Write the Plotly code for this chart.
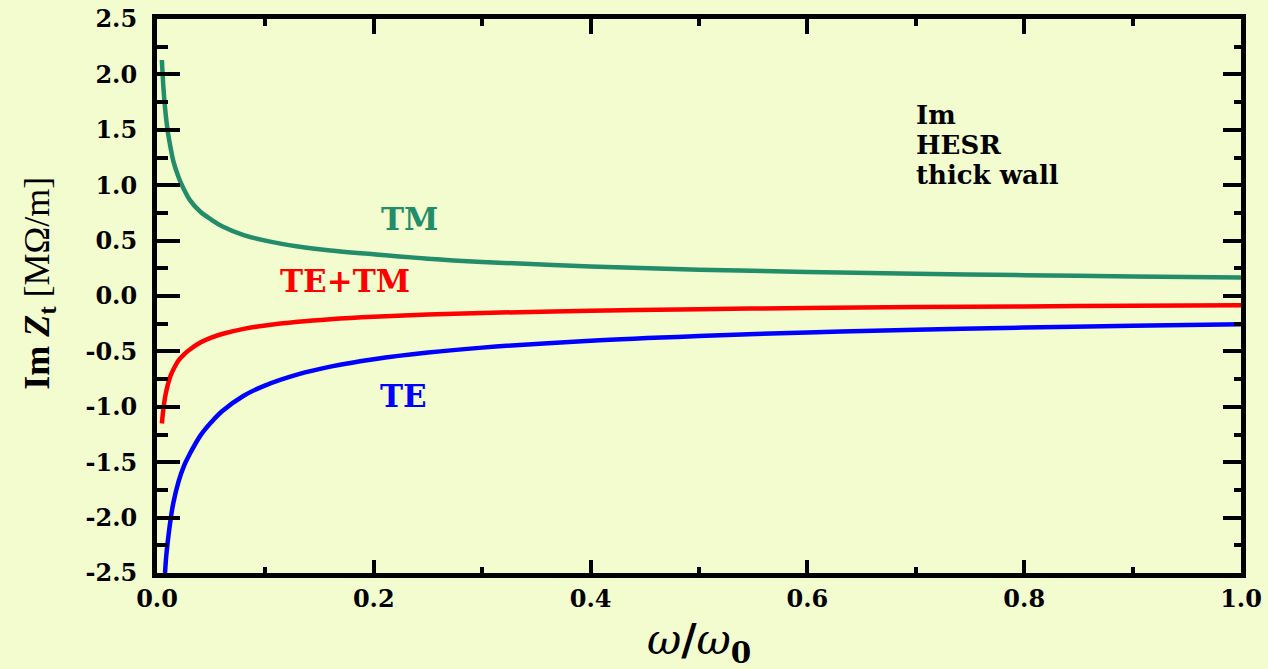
import plotly.graph_objects as go

# ---- data ----
tm_x = [0.0045, 0.006, 0.0075, 0.01, 0.0125, 0.015, 0.02, 0.025, 0.03, 0.04, 0.05, 0.06, 0.08,
        0.1, 0.13, 0.16, 0.2, 0.25, 0.3, 0.4, 0.5, 0.6, 0.7, 0.8, 0.9, 1.0]
tm_y = [2.13, 1.87, 1.69, 1.48, 1.34, 1.22, 1.07, 0.96, 0.87, 0.76, 0.69, 0.63, 0.55,
        0.50, 0.447, 0.41, 0.376, 0.336, 0.307, 0.266, 0.238, 0.217, 0.201, 0.188, 0.177, 0.168]

sum_x = [0.0045, 0.006, 0.0075, 0.01, 0.0125, 0.015, 0.02, 0.025, 0.03, 0.04, 0.05, 0.06, 0.08,
         0.1, 0.13, 0.16, 0.2, 0.25, 0.3, 0.4, 0.5, 0.6, 0.7, 0.8, 0.9, 1.0]
sum_y = [-1.15, -1.01, -0.91, -0.80, -0.72, -0.665, -0.58, -0.526, -0.485, -0.42, -0.376, -0.343, -0.297,
         -0.266, -0.233, -0.21, -0.188, -0.168, -0.153, -0.133, -0.119, -0.108, -0.100, -0.094, -0.0885, -0.084]

te_x = [0.0074, 0.0085, 0.01, 0.0125, 0.015, 0.02, 0.025, 0.03, 0.04, 0.05, 0.06, 0.08,
        0.1, 0.13, 0.16, 0.2, 0.25, 0.3, 0.4, 0.5, 0.6, 0.7, 0.8, 0.9, 1.0]
te_y = [-2.50, -2.35, -2.21, -2.02, -1.87, -1.67, -1.53, -1.43, -1.26, -1.14, -1.04, -0.90,
        -0.806, -0.707, -0.637, -0.570, -0.51, -0.466, -0.403, -0.361, -0.329, -0.305, -0.285, -0.269, -0.255]

x_tick_vals = [0.0, 0.2, 0.4, 0.6, 0.8, 1.0]
x_tick_text = ["0.0", "0.2", "0.4", "0.6", "0.8", "1.0"]
y_tick_vals = [-2.5, -2.0, -1.5, -1.0, -0.5, 0.0, 0.5, 1.0, 1.5, 2.0, 2.5]
y_tick_text = ["-2.5", "-2.0", "-1.5", "-1.0", "-0.5", "0.0", "0.5", "1.0", "1.5", "2.0", "2.5"]

info_lines = ["Im", "HESR", "thick wall"]
info_y = [1.634, 1.363, 1.092]

BG = "#f2fccf"
GREEN = "#238d69"
TICKFONT = dict(family="DejaVu Serif", size=24, color="black", weight="bold")
LINE = dict(width=4.5, shape="spline", smoothing=1.0)

fig = go.Figure()
fig.add_trace(go.Scatter(x=tm_x, y=tm_y, mode="lines", line=dict(LINE, color=GREEN), showlegend=False))
fig.add_trace(go.Scatter(x=sum_x, y=sum_y, mode="lines", line=dict(LINE, color="#ff0000"), showlegend=False))
fig.add_trace(go.Scatter(x=te_x, y=te_y, mode="lines", line=dict(LINE, color="#0000ff"), showlegend=False))
# invisible copy on the mirror axes so the top/right frame axes are drawn
fig.add_trace(go.Scatter(x=tm_x, y=tm_y, xaxis="x2", yaxis="y2", mode="lines", opacity=0,
                         line=dict(width=0), hoverinfo="skip", showlegend=False))

axis_common = dict(showgrid=False, zeroline=False, showline=True, linecolor="black", linewidth=5,
                   ticks="inside", tickcolor="black", tickwidth=4, automargin=False)

fig.update_layout(
    width=1268, height=669,
    margin=dict(l=157, r=27, t=19, b=96),
    paper_bgcolor=BG, plot_bgcolor=BG,
    xaxis=dict(range=[0, 1], tickmode="array", tickvals=x_tick_vals, ticktext=x_tick_text,
               ticklen=13, tickfont=TICKFONT, ticklabelstandoff=0,
               minor=dict(dtick=0.1, tick0=0, ticklen=6, tickwidth=4, ticks="inside", tickcolor="black", showgrid=False),
               **axis_common),
    xaxis2=dict(range=[0, 1], overlaying="x", side="top", anchor="y", tickmode="array", tickvals=x_tick_vals,
                showticklabels=False, ticklen=15,
                minor=dict(dtick=0.1, tick0=0, ticklen=7, tickwidth=4, ticks="inside", tickcolor="black", showgrid=False),
                **axis_common),
    yaxis=dict(range=[-2.5, 2.5], tickmode="array", tickvals=y_tick_vals, ticktext=y_tick_text,
               ticklen=23, tickfont=TICKFONT, ticklabelstandoff=10,
               minor=dict(dtick=0.25, tick0=0, ticklen=11, tickwidth=4, ticks="inside", tickcolor="black", showgrid=False),
               **axis_common),
    yaxis2=dict(range=[-2.5, 2.5], overlaying="y", side="right", anchor="x", tickmode="array", tickvals=y_tick_vals,
                showticklabels=False, ticklen=18,
                minor=dict(dtick=0.25, tick0=0, ticklen=7, tickwidth=4, ticks="inside", tickcolor="black", showgrid=False),
                **axis_common),
)

LABELFONT = dict(family="DejaVu Serif", size=31, weight="bold")
fig.add_annotation(x=0.2325, y=0.695, xref="x", yref="y", text="TM", showarrow=False,
                   font=dict(LABELFONT, color=GREEN))
fig.add_annotation(x=0.1734, y=0.135, xref="x", yref="y", text="TE+TM", showarrow=False,
                   font=dict(LABELFONT, color="#ff0000"))
fig.add_annotation(x=0.227, y=-0.90, xref="x", yref="y", text="TE", showarrow=False,
                   font=dict(LABELFONT, color="#0000ff"))

BOXFONT = dict(family="DejaVu Serif", size=26, weight="bold", color="black")
for txt, yv in zip(info_lines, info_y):
    fig.add_annotation(x=0.699, y=yv, xref="x", yref="y", text=txt, showarrow=False,
                       xanchor="left", yanchor="middle", borderpad=0, font=BOXFONT)

# axis titles
fig.add_annotation(x=-0.109, y=(573 - 283) / 554, xref="paper", yref="paper", textangle=-90,
                   text="<b>Im <i>Z</i><sub>t</sub></b> [MΩ/m]", showarrow=False,
                   xanchor="center", yanchor="middle",
                   font=dict(family="Liberation Serif", size=36, color="black"))
fig.add_annotation(x=0.5, y=-(642 - 573) / 554, xref="paper", yref="paper",
                   text="<i>ω</i><b>/</b><i>ω</i><sub><b>0</b></sub>", showarrow=False,
                   xanchor="center", yanchor="middle",
                   font=dict(family="DejaVu Serif", size=42, color="black"))

fig.write_html("out.html", config={"displayModeBar": False},
               post_script="document.body.style.margin='0';document.body.style.overflow='hidden';")
